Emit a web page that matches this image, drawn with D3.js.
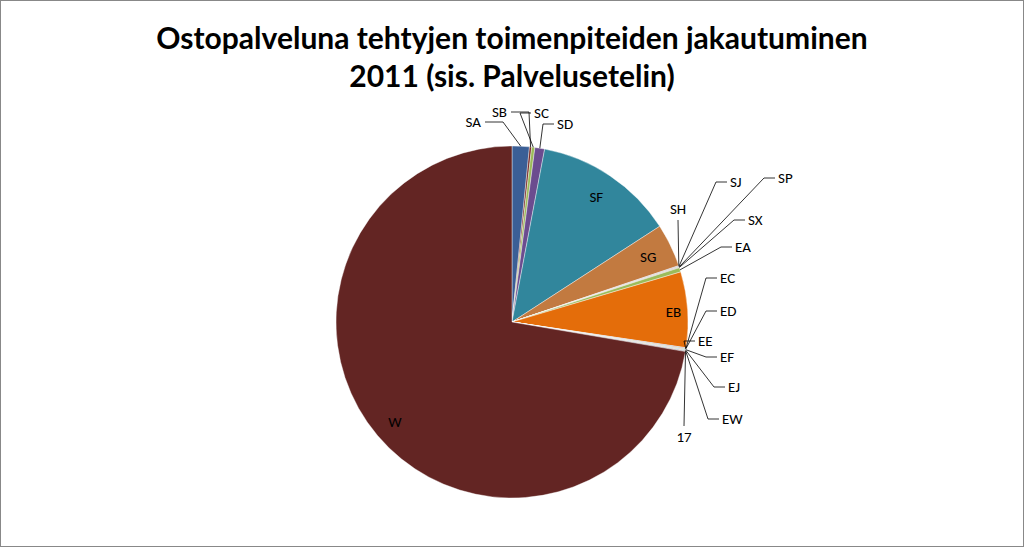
<!DOCTYPE html>
<html><head><meta charset="utf-8">
<script src="https://cdn.jsdelivr.net/npm/d3@7"></script>
<style>body{margin:0;background:#fff}</style>
</head><body>
<svg id="chart" width="1024" height="547"></svg>
<script>
const categories = ['SA','SB','SC','SD','SF','SG','SH','SJ','SP','SX','EA','EB','EC','ED','EE','EF','EJ','EW','17','W'];
const values     = [1.6, 0.2, 0.3, 0.9, 13.0, 4.0, 0.05, 0.05, 0.05, 0.05, 0.4, 7.0, 0.05, 0.05, 0.05, 0.05, 0.05, 0.05, 0.05, 73.0];
const colors     = ['#3b5f96','#7a2c2a','#9bbb59','#6b4c8f','#31869c','#c27a40','#4f81bd','#c0504d','#9bbb59','#8064a2','#9bbb59','#e46d0a','#4f81bd','#c0504d','#9bbb59','#8064a2','#4bacc6','#f79646','#2c4d75','#632523'];
// label anchor positions for outside labels (layout)
const outsideLabels = {
  SA:[481,127,'end'], SB:[507,117,'end'], SC:[534,118,'start'], SD:[557,129,'start'],
  SH:[678,214,'middle'], SJ:[730,187,'start'], SP:[778,183,'start'], SX:[748,225,'start'], EA:[735,252,'start'],
  EC:[720,283,'start'], ED:[720,316,'start'], EE:[698,346,'start'], EF:[720,362,'start'], EJ:[728,392,'start'],
  EW:[722,424,'start'], '17':[684,442,'middle']
};
const insideLabels = {SF:0.86, SG:0.86, EB:0.92, W:0.87};

const svg = d3.select('#chart');
svg.append('rect').attr('x',0.5).attr('y',0.5).attr('width',1023).attr('height',546)
  .attr('fill','#fff').attr('stroke','#888');

const title = svg.append('text').attr('text-anchor','middle')
  .attr('font-family','Lato, "Open Sans", sans-serif').attr('font-weight','bold').attr('font-size',30).attr('fill','#000');
title.append('tspan').attr('x',512).attr('y',49).text('Ostopalveluna tehtyjen toimenpiteiden jakautuminen');
title.append('tspan').attr('x',512).attr('y',87).text('2011 (sis. Palvelusetelin)');

const cx = 512, cy = 322, r = 176;
const pie = d3.pie().sort(null).value(d=>d.v);
const data = pie(categories.map((c,i)=>({c, v:values[i], col:colors[i]})));
const arc = d3.arc().innerRadius(0).outerRadius(r);
const g = svg.append('g').attr('transform',`translate(${cx},${cy})`);

g.selectAll('path').data(data).join('path')
  .attr('d',arc).attr('fill',d=>d.data.col).attr('stroke','#fff').attr('stroke-width',0.4);

const font = 'Calibri, Carlito, "Open Sans", sans-serif';
data.forEach(d=>{
  const c = d.data.c;
  const mid = (d.startAngle+d.endAngle)/2;
  if (insideLabels[c]) {
    const rr = r*insideLabels[c];
    g.append('text').attr('x',Math.sin(mid)*rr).attr('y',-Math.cos(mid)*rr+6)
      .attr('text-anchor','middle').attr('font-family',font).attr('font-size',15).attr('fill','#000').text(c);
    return;
  }
  const L = outsideLabels[c]; if (!L) return;
  const px = Math.sin(mid)*r, py = -Math.cos(mid)*r;
  const lx = L[0]-cx, ly = L[1]-cy;
  let pts;
  if (L[2]==='middle') pts = [[px,py],[lx, ly + (ly<py ? 6 : -16)]];
  else if (L[2]==='end') pts = [[px,py],[lx+22,ly-5],[lx+4,ly-5]];
  else pts = [[px,py],[lx-14,ly-5],[lx-3,ly-5]];
  g.append('path').attr('d',d3.line()(pts)).attr('fill','none').attr('stroke','#000').attr('stroke-width',0.8);
  g.append('text').attr('x',lx).attr('y',ly)
    .attr('text-anchor',L[2]).attr('font-family',font).attr('font-size',15).attr('fill','#000').text(c);
});
</script>
</body></html>
